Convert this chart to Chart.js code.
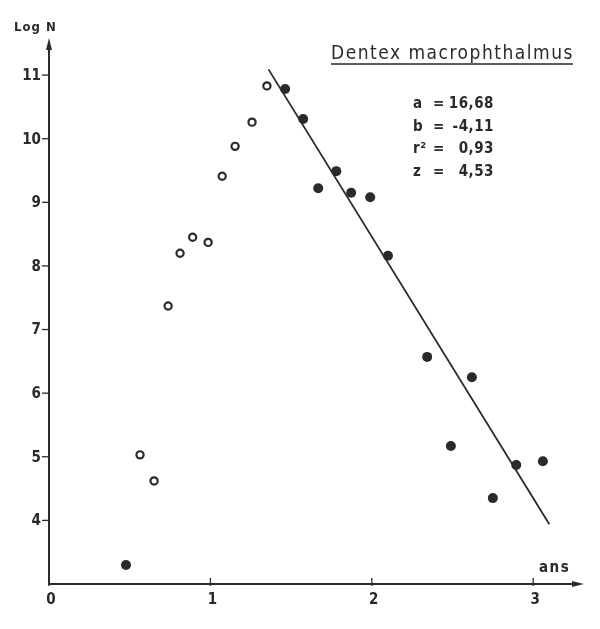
<!DOCTYPE html>
<html><head><meta charset="utf-8">
<script src="https://cdn.jsdelivr.net/npm/chart.js@4/dist/chart.umd.min.js"></script>
<style>html,body{margin:0;padding:0;background:#fff}#wrap{width:600px;height:629px}</style>
</head><body><div id="wrap"><canvas id="c" width="600" height="629"></canvas></div>
<script>
const openX = [0.564, 0.651, 0.738, 0.812, 0.890, 0.986, 1.073, 1.153, 1.258, 1.350];
const openY = [5.03, 4.62, 7.37, 8.20, 8.45, 8.37, 9.41, 9.88, 10.26, 10.83];
const fillX = [0.477, 1.463, 1.575, 1.668, 1.780, 1.872, 1.990, 2.100, 2.343, 2.490, 2.620, 2.750, 2.895, 3.060];
const fillY = [3.30, 10.78, 10.31, 9.22, 9.49, 9.15, 9.08, 8.16, 6.57, 5.17, 6.25, 4.35, 4.87, 4.93];
const lineX = [1.36, 3.10];
const lineY = [11.09, 3.94];
const xTicks = [0, 1, 2, 3];
const yTicks = [4, 5, 6, 7, 8, 9, 10, 11];
const title = "Dentex macrophthalmus";
const stats = [["a", "=", "16,68"], ["b", "=", "-4,11"], ["r²", "=", "0,93"], ["z", "=", "4,53"]];

const INK = '#2a2a2a';
const FONT = '"DejaVu Sans Condensed", "DejaVu Sans", sans-serif';
const pts = (xs, ys) => xs.map((x, i) => ({x, y: ys[i]}));

const deco = {
  id: 'deco',
  afterDraw(chart) {
    const {ctx, scales: {x, y}, chartArea: ca} = chart;
    ctx.save();
    ctx.strokeStyle = INK; ctx.fillStyle = INK; ctx.lineWidth = 2;
    // axes
    ctx.beginPath();
    ctx.moveTo(ca.left, ca.top); ctx.lineTo(ca.left, ca.bottom); ctx.lineTo(ca.right, ca.bottom);
    ctx.stroke();
    // arrows
    ctx.beginPath();
    ctx.moveTo(ca.left, ca.top - 4); ctx.lineTo(ca.left - 3, ca.top + 8); ctx.lineTo(ca.left + 3, ca.top + 8); ctx.closePath(); ctx.fill();
    ctx.beginPath();
    ctx.moveTo(ca.right + 4, ca.bottom); ctx.lineTo(ca.right - 8, ca.bottom - 3); ctx.lineTo(ca.right - 8, ca.bottom + 3); ctx.closePath(); ctx.fill();
    // ticks
    ctx.lineWidth = 1.3;
    ctx.font = 'bold 15px ' + FONT;
    ctx.textAlign = 'right'; ctx.textBaseline = 'middle';
    yTicks.forEach(v => {
      const py = y.getPixelForValue(v);
      ctx.beginPath(); ctx.moveTo(ca.left - 7, py); ctx.lineTo(ca.left, py); ctx.stroke();
      ctx.fillText(String(v), ca.left - 8, py + 1);
    });
    ctx.textAlign = 'center'; ctx.textBaseline = 'top';
    xTicks.forEach(v => {
      const px = x.getPixelForValue(v);
      ctx.beginPath(); ctx.moveTo(px, ca.bottom - 6); ctx.lineTo(px, ca.bottom + 2); ctx.stroke();
      ctx.fillText(String(v), px + 2, ca.bottom + 9);
    });
    // axis titles
    ctx.font = 'bold 13px ' + FONT;
    ctx.letterSpacing = '1px';
    ctx.textAlign = 'left'; ctx.textBaseline = 'middle';
    ctx.fillText('Log N', 14, 28);
    ctx.font = 'bold 15px ' + FONT;
    ctx.letterSpacing = '1.5px';
    ctx.fillText('ans', 539, 568);
    // title
    ctx.font = '19px ' + FONT;
    ctx.letterSpacing = '1.5px';
    ctx.textAlign = 'left'; ctx.textBaseline = 'alphabetic';
    ctx.fillText(title, 331, 59);
    const tw = ctx.measureText(title).width;
    ctx.lineWidth = 1.4;
    ctx.beginPath(); ctx.moveTo(331, 64); ctx.lineTo(331 + tw - 1, 64); ctx.stroke();
    // stats
    ctx.font = 'bold 15px ' + FONT;
    ctx.letterSpacing = '0.5px';
    ctx.textBaseline = 'middle';
    stats.forEach((s, i) => {
      const py = 104 + i * 22.7;
      ctx.textAlign = 'left';
      ctx.fillText(s[0], 413, py);
      ctx.fillText(s[1], 433, py);
      ctx.textAlign = 'right';
      ctx.fillText(s[2], 494, py);
    });
    ctx.restore();
  }
};

new Chart(document.getElementById('c'), {
  type: 'scatter',
  data: {
    datasets: [
      {data: pts(lineX, lineY), showLine: true, borderColor: INK, borderWidth: 1.8, pointRadius: 0, order: 3},
      {data: pts(openX, openY), pointRadius: 3.6, pointBorderWidth: 2.2, pointBackgroundColor: '#fff', pointBorderColor: INK, order: 2},
      {data: pts(fillX, fillY), pointRadius: 5, pointBorderWidth: 0, pointBackgroundColor: INK, pointBorderColor: INK, order: 1}
    ]
  },
  options: {
    responsive: false, animation: false, devicePixelRatio: 1,
    layout: {padding: {top: 42, right: 20, left: 0, bottom: 0}},
    plugins: {legend: {display: false}, tooltip: {enabled: false}},
    scales: {
      x: {type: 'linear', min: 0, max: 3.29, grid: {display: false}, border: {display: false},
          ticks: {display: false}, afterFit(s) { s.height = 45; }},
      y: {type: 'linear', min: 3.0, max: 11.52, grid: {display: false}, border: {display: false},
          ticks: {display: false}, afterFit(s) { s.width = 49; }}
    }
  },
  plugins: [deco]
});
</script></body></html>
